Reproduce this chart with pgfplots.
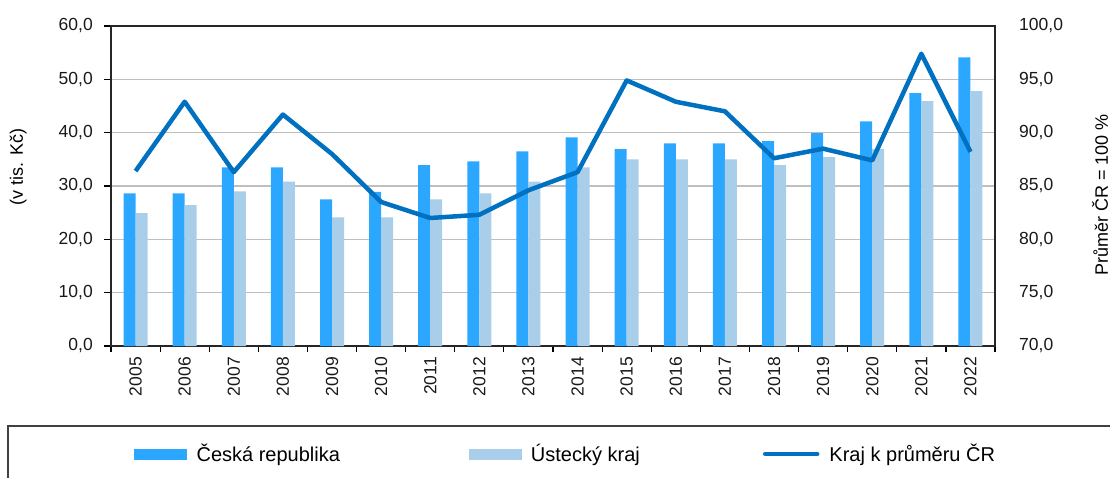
\documentclass[border=0pt]{standalone}
\usepackage{pgfplots}
\pgfplotsset{compat=1.18}
\usepackage{pgfplotstable}
\usepackage{fontspec}
\setmainfont{Liberation Sans}
\definecolor{cr}{RGB}{44,167,255}
\definecolor{uk}{RGB}{168,206,234}
\definecolor{ln}{RGB}{0,112,192}
\pgfplotstableread{
x cr uk kr
0 28.6 24.9 86.4
1 28.6 26.4 92.9
2 33.5 29.0 86.3
3 33.5 30.8 91.7
4 27.5 24.1 88.0
5 28.9 24.1 83.5
6 33.9 27.5 82.0
7 34.6 28.6 82.3
8 36.5 30.8 84.6
9 39.1 33.5 86.3
10 36.9 35.0 94.9
11 38.0 35.0 92.9
12 38.0 35.0 92.0
13 38.4 33.9 87.6
14 39.9 35.4 88.5
15 42.1 36.9 87.4
16 47.4 45.9 97.4
17 54.1 47.8 88.2
}\data
\begin{document}
\begin{tikzpicture}
\useasboundingbox (0pt,0pt) rectangle (1110pt,477pt);
\draw[black!75, line width=1.5pt] (8pt,-5pt) -- (8pt,51pt) -- (1120pt,51pt);
\begin{axis}[
  at={(111pt,131pt)}, anchor=south west,
  scale only axis, width=884pt, height=320pt,
  xmin=-0.5, xmax=17.5, ymin=0, ymax=60,
  xtick={0,...,17},
  xticklabels={2005,2006,2007,2008,2009,2010,2011,2012,2013,2014,2015,2016,2017,2018,2019,2020,2021,2022},
  minor xtick={-0.5,0.5,...,17.5},
  major x tick style={draw=none},
  minor x tick style={black, line width=1.2pt},
  minor tick length=6pt,
  ytick={0,10,...,60},
  major tick length=7pt,
  y tick style={black, line width=1.2pt},
  tick align=outside,
  tick pos=left,
  axis line style={black!85, line width=1.5pt},
  ymajorgrids, grid style={black!25, line width=1.5pt},
  ticklabel style={font=\fontsize{17.5}{17.5}\selectfont, text=black!90},
  xticklabel style={rotate=90, anchor=east, inner sep=0pt, inner xsep=4pt},
  yticklabel style={inner sep=0pt, inner xsep=11pt, anchor=east},
  /pgf/number format/.cd, fixed, fixed zerofill, precision=1, use comma, assume math mode=true,
  /pgfplots/.cd,
  ylabel={(v tis. Kč)},
  ylabel style={at={(axis description cs:-0.105,0.559)}, anchor=center, font=\fontsize{18}{18}\selectfont},
  ybar=0pt, bar width=12pt,
]
\addplot[fill=cr, draw=none] table[x=x, y=cr] {\data};
\addplot[fill=uk, draw=none] table[x=x, y=uk] {\data};
\end{axis}
\begin{axis}[
  at={(111pt,131pt)}, anchor=south west,
  scale only axis, width=884pt, height=320pt,
  xmin=-0.5, xmax=17.5, ymin=70, ymax=100,
  axis x line=none, axis y line*=right,
  axis line style={black!85, line width=1.5pt},
  ytick={70,75,...,100},
  major tick length=0pt,
  ticklabel style={font=\fontsize{17.5}{17.5}\selectfont, text=black!90},
  yticklabel style={inner sep=0pt, anchor=west, xshift=24pt},
  /pgf/number format/.cd, fixed, fixed zerofill, precision=1, use comma, assume math mode=true,
  /pgfplots/.cd,
  ylabel={Průměr ČR = 100 \%},
  ylabel style={at={(axis description cs:1.119,0.472)}, anchor=center, rotate=0, font=\fontsize{18}{18}\selectfont},
  legend columns=3,
  legend style={draw=none, fill=none, at={(axis description cs:0.026,-0.3375)}, anchor=west,
    inner sep=0pt, nodes={inner sep=0pt, anchor=west}, font=\fontsize{20}{20}\selectfont,
    /tikz/every odd column/.append style={column sep=10pt}},
]
\addlegendimage{legend image code/.code={\fill[cr] (0pt,-5pt) rectangle (52pt,5pt);}}
\addlegendentry{\makebox[272pt][l]{Česká republika}}
\addlegendimage{legend image code/.code={\fill[uk] (0pt,-5pt) rectangle (52pt,5pt);}}
\addlegendentry{\makebox[232pt][l]{Ústecký kraj}}
\addlegendimage{legend image code/.code={\draw[ln, line width=4.5pt, line cap=round] (2pt,0pt) -- (54pt,0pt);}}
\addlegendentry{Kraj k průměru ČR}
\addplot[ln, line width=4.5pt, line join=round, forget plot] table[x=x, y=kr] {\data};
\end{axis}
\end{tikzpicture}
\end{document}
